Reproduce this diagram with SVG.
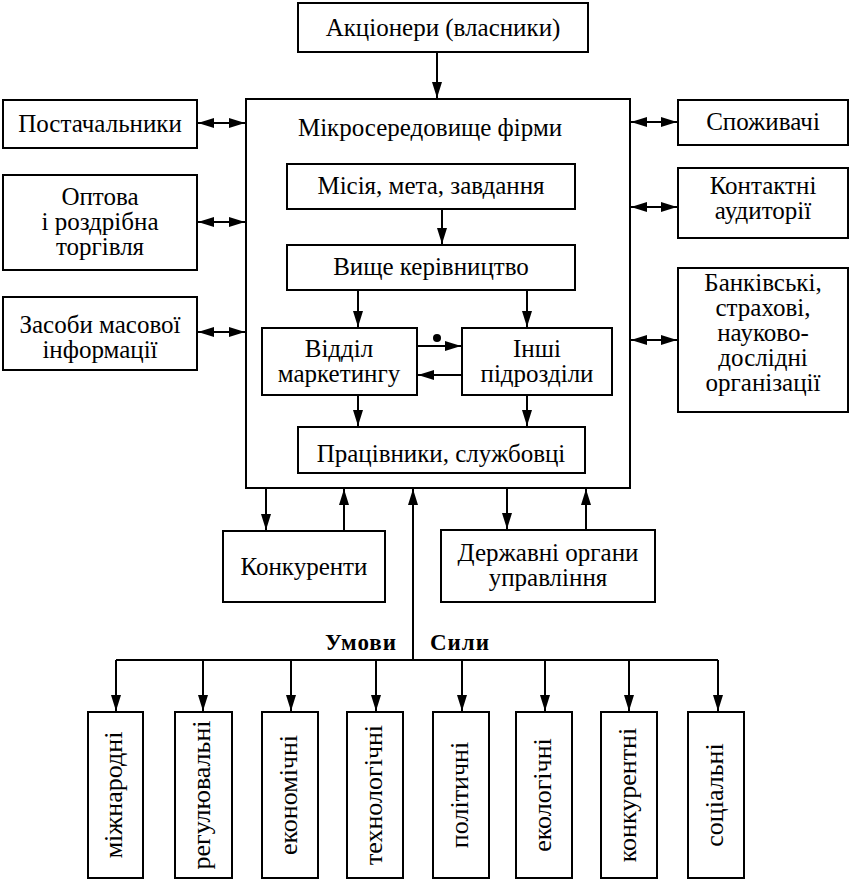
<svg xmlns="http://www.w3.org/2000/svg" width="850" height="881" viewBox="0 0 850 881">
<defs>
<marker id="ah" viewBox="0 0 16 10" refX="16" refY="5" markerWidth="16" markerHeight="10" markerUnits="userSpaceOnUse" orient="auto-start-reverse">
<path d="M0,0 L16,5 L0,10 Z" fill="#000"/>
</marker>
</defs>
<style>
rect{fill:#fff;stroke:#000;stroke-width:2}
text{font-family:"Liberation Serif","Times New Roman",serif;font-size:25px;fill:#000;text-anchor:middle}
.b{font-weight:bold;font-size:23px;letter-spacing:1px}
.v{font-size:26px}
.l{stroke:#000;stroke-width:2;fill:none}
.a{marker-end:url(#ah)}
.d{marker-start:url(#ah);marker-end:url(#ah)}
</style>
<rect width="850" height="881" style="fill:#fff;stroke:none"/>

<g id="shareholders"><rect x="298" y="3" width="290" height="49"/><text x="443" y="36">Акціонери (власники)</text></g>
<g id="micro"><rect x="246" y="99" width="384" height="389"/><text x="430" y="136">Мікросередовище фірми</text></g>
<g id="mission"><rect x="287" y="164" width="288" height="45"/><text x="431" y="194">Місія, мета, завдання</text></g>
<g id="management"><rect x="287" y="245" width="288" height="45"/><text x="431" y="275">Вище керівництво</text></g>
<g id="marketing"><rect x="262" y="328" width="155" height="67"/><text x="339" y="357">Відділ</text><text x="339" y="382">маркетингу</text></g>
<g id="other"><rect x="462" y="328" width="150" height="67"/><text x="537" y="357">Інші</text><text x="537" y="382">підрозділи</text></g>
<g id="staff"><rect x="298" y="427" width="287" height="46"/><text x="441" y="462">Працівники, службовці</text></g>

<g id="suppliers"><rect x="3" y="100" width="194" height="48"/><text x="100" y="132">Постачальники</text></g>
<g id="trade"><rect x="3" y="175" width="194" height="95"/><text x="100" y="205">Оптова</text><text x="100" y="230">і роздрібна</text><text x="100" y="255">торгівля</text></g>
<g id="media"><rect x="3" y="297" width="194" height="73"/><text x="100" y="333">Засоби масової</text><text x="100" y="358">інформації</text></g>

<g id="consumers"><rect x="678" y="100" width="170" height="45"/><text x="763" y="130">Споживачі</text></g>
<g id="audiences"><rect x="678" y="168" width="170" height="70"/><text x="763" y="194">Контактні</text><text x="763" y="219">аудиторії</text></g>
<g id="orgs"><rect x="678" y="268" width="170" height="144"/><text x="763" y="291">Банківські,</text><text x="763" y="316">страхові,</text><text x="763" y="341">науково-</text><text x="763" y="366">дослідні</text><text x="763" y="391">організації</text></g>

<g id="competitors"><rect x="223" y="531" width="162" height="71"/><text x="304" y="575">Конкуренти</text></g>
<g id="government"><rect x="441" y="530" width="214" height="72"/><text x="548" y="561">Державні органи</text><text x="548" y="586">управління</text></g>

<g id="labels"><text class="b" x="397" y="650" style="text-anchor:end">Умови</text><text class="b" x="430" y="650" style="text-anchor:start">Сили</text></g>

<g id="f1"><rect x="88" y="712" width="55" height="166"/><text class="v" transform="translate(122,795) rotate(-90)">міжнародні</text></g>
<g id="f2"><rect x="175" y="712" width="57" height="166"/><text class="v" transform="translate(210,795) rotate(-90)">регулювальні</text></g>
<g id="f3"><rect x="262" y="712" width="56" height="166"/><text class="v" transform="translate(297,795) rotate(-90)">економічні</text></g>
<g id="f4"><rect x="347" y="712" width="56" height="166"/><text class="v" transform="translate(382,795) rotate(-90)">технологічні</text></g>
<g id="f5"><rect x="433" y="712" width="56" height="166"/><text class="v" transform="translate(468,795) rotate(-90)">політичні</text></g>
<g id="f6"><rect x="516" y="712" width="56" height="166"/><text class="v" transform="translate(551,795) rotate(-90)">екологічні</text></g>
<g id="f7"><rect x="601" y="712" width="56" height="166"/><text class="v" transform="translate(636,795) rotate(-90)">конкурентні</text></g>
<g id="f8"><rect x="688" y="712" width="56" height="166"/><text class="v" transform="translate(723,795) rotate(-90)">соціальні</text></g>

<g id="connectors">
<path class="l a" d="M437,52 V98"/>
<path class="l a" d="M442,209 V244"/>
<path class="l a" d="M358,290 V327"/>
<path class="l a" d="M527,290 V327"/>
<path class="l a" d="M417,346 H461"/>
<circle cx="437" cy="338" r="4" fill="#000"/>
<path class="l a" d="M462,375 H418"/>
<path class="l a" d="M358,395 V426"/>
<path class="l a" d="M527,395 V426"/>
<path class="l d" d="M198,123 H245"/>
<path class="l d" d="M198,222 H245"/>
<path class="l d" d="M198,332 H245"/>
<path class="l d" d="M631,122 H677"/>
<path class="l d" d="M631,207 H677"/>
<path class="l d" d="M631,340 H677"/>
<path class="l a" d="M266,488 V530"/>
<path class="l a" d="M344,531 V489"/>
<path class="l a" d="M507,488 V529"/>
<path class="l a" d="M586,530 V489"/>
<path class="l a" d="M413,660 V489"/>
<path class="l" d="M116,660 H718"/>
<path class="l a" d="M116,660 V711"/>
<path class="l a" d="M203,660 V711"/>
<path class="l a" d="M291,660 V711"/>
<path class="l a" d="M376,660 V711"/>
<path class="l a" d="M462,660 V711"/>
<path class="l a" d="M545,660 V711"/>
<path class="l a" d="M629,660 V711"/>
<path class="l a" d="M718,660 V711"/>
</g>
</svg>
